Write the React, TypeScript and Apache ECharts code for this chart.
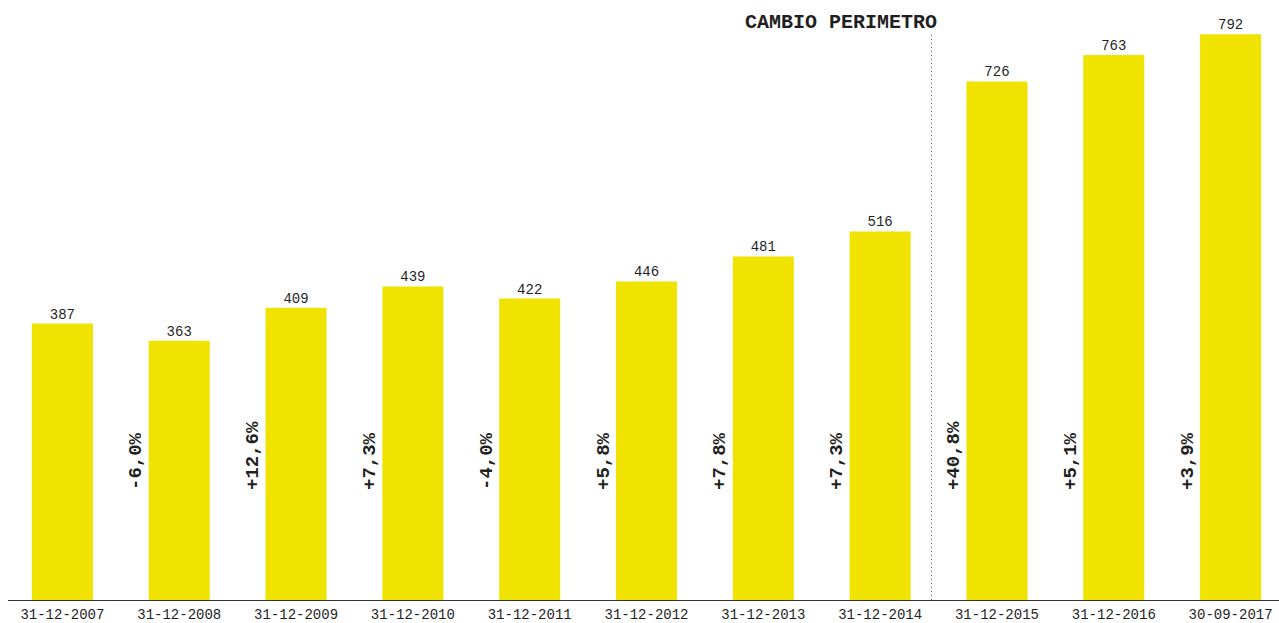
import React, { useEffect, useRef } from "react";
import * as echarts from "echarts";

const categories = [
  "31-12-2007",
  "31-12-2008",
  "31-12-2009",
  "31-12-2010",
  "31-12-2011",
  "31-12-2012",
  "31-12-2013",
  "31-12-2014",
  "31-12-2015",
  "31-12-2016",
  "30-09-2017",
];

const values = [387, 363, 409, 439, 422, 446, 481, 516, 726, 763, 792];

const changes = [
  "",
  "-6,0%",
  "+12,6%",
  "+7,3%",
  "-4,0%",
  "+5,8%",
  "+7,8%",
  "+7,3%",
  "+40,8%",
  "+5,1%",
  "+3,9%",
];

const titleText = "CAMBIO PERIMETRO";

const MONO = "'Liberation Mono', 'DejaVu Sans Mono', monospace";
const YELLOW = "#f0e300";
const INK = "#1f1f1f";

export default function App() {
  const ref = useRef<HTMLDivElement>(null);

  useEffect(() => {
    if (!ref.current) return;
    const chart = echarts.init(ref.current, null, { renderer: "svg" });
    chart.setOption({
      animation: false,
      backgroundColor: "#ffffff",
      grid: { left: 4, top: 0, width: 1285, height: 600, containLabel: false },
      xAxis: {
        type: "category",
        data: categories,
        axisLine: { show: false },
        axisTick: { show: false },
        axisLabel: {
          color: INK,
          fontFamily: MONO,
          fontSize: 14,
          margin: 8,
          interval: 0,
        },
      },
      yAxis: {
        type: "value",
        min: 0,
        max: 840,
        show: false,
        splitLine: { show: false },
      },
      graphic: [
        {
          type: "line",
          shape: { x1: 8, y1: 600.5, x2: 1279, y2: 600.5 },
          style: { stroke: "#333333", lineWidth: 1 },
          z: 10,
        },
        {
          type: "line",
          shape: { x1: 931.5, y1: 35, x2: 931.5, y2: 600 },
          style: { stroke: "#555555", lineWidth: 1, lineDash: [1, 3] },
          z: 10,
        },
        {
          type: "text",
          x: 937,
          y: 22,
          style: {
            text: titleText,
            fontFamily: MONO,
            fontSize: 20,
            fontWeight: "bold",
            fill: INK,
            textAlign: "right",
            textVerticalAlign: "middle",
          },
          z: 10,
        },
      ],
      series: [
        {
          type: "bar",
          data: values,
          barWidth: 61,
          itemStyle: { color: YELLOW },
          label: {
            show: true,
            position: "top",
            distance: 2,
            color: INK,
            fontFamily: MONO,
            fontSize: 14,
          },
          silent: true,
        },
        {
          type: "custom",
          silent: true,
          clip: false,
          data: changes.map((_, i) => [i, 0]),
          renderItem: (params: any, api: any) => {
            const text = changes[params.dataIndex];
            if (!text) return null;
            const p = api.coord([api.value(0), 0]);
            return {
              type: "text",
              x: p[0] - 43,
              y: p[1] - 110,
              rotation: Math.PI / 2,
              style: {
                text,
                fontFamily: MONO,
                fontSize: 19,
                fontWeight: "bold",
                fill: INK,
                textAlign: "left",
                textVerticalAlign: "middle",
              },
            };
          },
        },
      ],
    });
    return () => chart.dispose();
  }, []);

  return (
    <div
      style={{
        position: "absolute",
        left: 0,
        top: 0,
        width: 1279,
        height: 623,
        overflow: "hidden",
      }}
    >
      <div ref={ref} style={{ width: 1300, height: 623 }} />
    </div>
  );
}
